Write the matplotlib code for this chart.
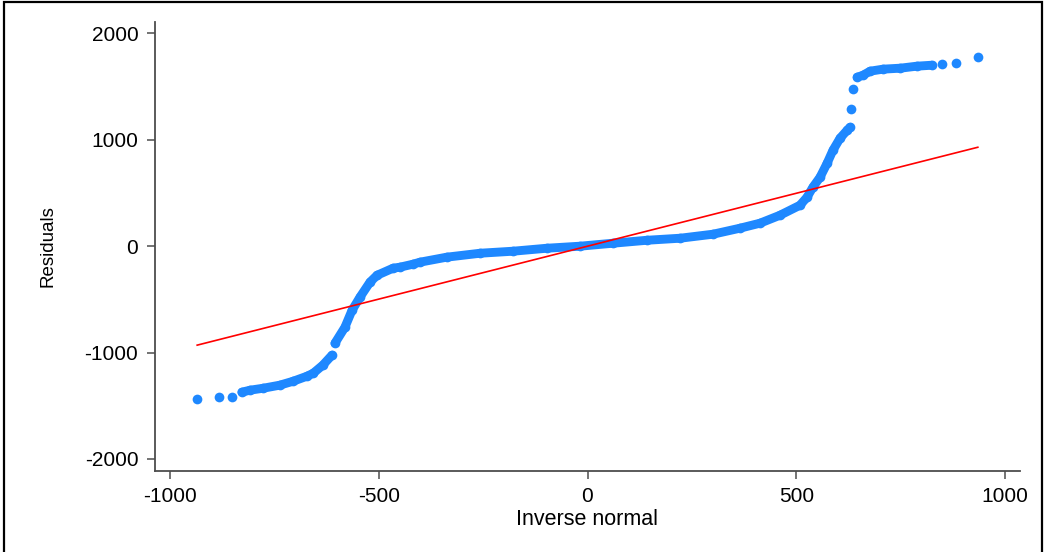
import matplotlib.pyplot as plt
from matplotlib.patches import Rectangle

plt.rcParams["font.family"] = ["Liberation Sans", "DejaVu Sans"]

# -----------------------------
# Data (quantile plot of residuals)
# -----------------------------
inv_normal = [-935, -883, -851, -828, -808, -777, -737, -705, -672, -657, -634, -612,
              -605, -581, -564, -545, -521, -504, -466, -418, -449, -401, -337, -257,
              -178, -97, -18, 61, 143, 222, 301, 365, 413, 461, 509, 526, 540, 557,
              574, 588, 605, 622, 629, 631, 636, 646, 660, 677, 708, 749, 789, 825,
              849, 882, 935]
residuals = [-1438, -1419, -1419, -1372, -1353, -1335, -1306, -1269, -1222, -1194, -1118, -1024,
             -912, -761, -602, -479, -338, -273, -207, -169, -197, -150, -103, -66,
             -47, -19, 0, 28, 56, 75, 113, 169, 216, 291, 385, 461, 555, 648,
             780, 902, 1015, 1090, 1118, 1288, 1476, 1588, 1607, 1645, 1664, 1673, 1692, 1701,
             1711, 1720, 1776]

# sort by x so the band is drawn in order
pairs = sorted(zip(inv_normal, residuals))
qx = [p[0] for p in pairs]
qy = [p[1] for p in pairs]

fit_x = [-935, 935]
fit_y = [-930, 930]

xticks = [-1000, -500, 0, 500, 1000]
yticks = [-2000, -1000, 0, 1000, 2000]

blue = "#1E88FF"
axis_col = "#4d4d4d"

fig = plt.figure(figsize=(10.45, 5.52), dpi=100)
ax = fig.add_axes([155 / 1045, 1 - 470.7 / 552, 865 / 1045, (470.7 - 21.7) / 552])

# continuous parts of the band drawn as a thick line, every point as a dot
segments = [(3, 12), (12, 43), (45, 52)]
for a, b in segments:
    ax.plot(qx[a:b], qy[a:b], color=blue, linewidth=6.4, solid_capstyle="round",
            solid_joinstyle="round", zorder=2)
ax.plot(qx, qy, "o", color=blue, markersize=7, markeredgewidth=0, zorder=2)

ax.plot(fit_x, fit_y, color="red", linewidth=1.2, zorder=3)

ax.set_xlim(-1036, 1036)
ax.set_ylim(-2110, 2110)
ax.set_xticks(xticks)
ax.set_yticks(yticks)
ax.set_xticklabels([str(t) for t in xticks])
ax.set_yticklabels([str(t) for t in yticks])

for s in ["top", "right"]:
    ax.spines[s].set_visible(False)
for s in ["left", "bottom"]:
    ax.spines[s].set_color(axis_col)
    ax.spines[s].set_linewidth(1.3)

ax.tick_params(axis="both", direction="out", length=6, width=1.1, color=axis_col,
               labelsize=15, labelcolor="black")
ax.tick_params(axis="y", pad=6)
ax.tick_params(axis="x", pad=6)

ax.set_xlabel("Inverse normal", fontsize=15.5, labelpad=2)
ax.set_ylabel("Residuals", fontsize=13.5, labelpad=20)

# outer frame round the graph
fig.patches.append(Rectangle((3.5 / 1045, -0.1), 1038.5 / 1045, 1.1 - 1.5 / 552,
                             transform=fig.transFigure, fill=False,
                             edgecolor="black", linewidth=1.6, zorder=0))

fig.savefig("out.png", dpi=100)
